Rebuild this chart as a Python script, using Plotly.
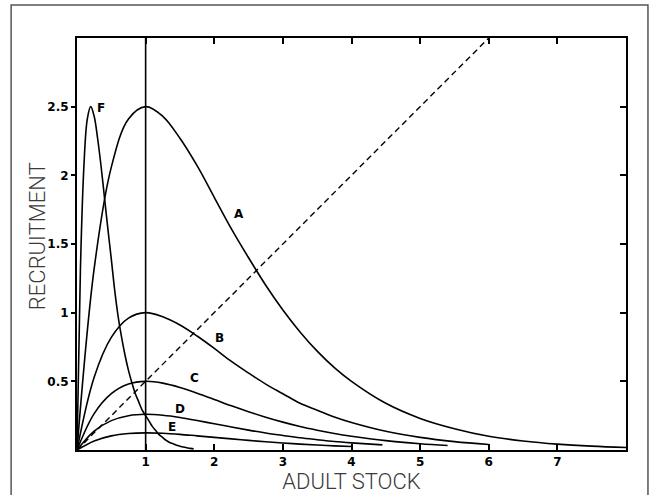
import plotly.graph_objects as go

# ---- data ----
stock_A = [0, 0.25, 0.5, 0.75, 1.0, 1.25, 1.5, 1.75, 2.0, 2.25, 2.5, 2.75, 3.0, 3.25, 3.5, 3.75,
           4.0, 4.5, 5.0, 5.5, 6.0, 6.5, 7.0, 7.5, 8.0]
rec_A = [0, 1.32, 2.06, 2.41, 2.50, 2.43, 2.27, 2.07, 1.84, 1.61, 1.40, 1.20, 1.02, 0.86, 0.72, 0.60,
         0.50, 0.34, 0.23, 0.155, 0.10, 0.066, 0.043, 0.028, 0.018]

stock_B = [0, 0.25, 0.5, 0.75, 1.0, 1.25, 1.5, 1.75, 2.0, 2.25, 2.5, 2.75, 3.0, 3.25, 3.5, 3.75,
           4.0, 4.5, 5.0, 5.5, 6.0]
rec_B = [0, 0.53, 0.82, 0.96, 1.0, 0.97, 0.91, 0.83, 0.74, 0.645, 0.56, 0.48, 0.41, 0.34, 0.29, 0.24,
         0.20, 0.136, 0.092, 0.061, 0.04]

stock_C = [0, 0.25, 0.5, 0.75, 1.0, 1.25, 1.5, 1.75, 2.0, 2.25, 2.5, 2.75, 3.0, 3.25, 3.5, 3.75,
           4.0, 4.5, 5.0, 5.4]
rec_C = [0, 0.265, 0.41, 0.48, 0.50, 0.487, 0.455, 0.413, 0.368, 0.322, 0.279, 0.239, 0.203, 0.171,
         0.144, 0.12, 0.10, 0.068, 0.046, 0.033]

stock_D = [0, 0.25, 0.5, 0.75, 1.0, 1.25, 1.5, 1.75, 2.0, 2.25, 2.5, 2.75, 3.0, 3.25, 3.5, 3.75,
           4.0, 4.45]
rec_D = [0, 0.138, 0.214, 0.25, 0.26, 0.253, 0.237, 0.215, 0.191, 0.168, 0.145, 0.124, 0.106, 0.089,
         0.075, 0.062, 0.052, 0.037]

stock_E = [0, 0.25, 0.5, 0.75, 1.0, 1.25, 1.5, 1.75, 2.0, 2.25, 2.5, 2.75, 3.0, 3.25, 3.5, 3.75, 4.0]
rec_E = [0, 0.066, 0.103, 0.12, 0.125, 0.122, 0.114, 0.103, 0.092, 0.081, 0.07, 0.06, 0.051, 0.043,
         0.036, 0.03, 0.025]

stock_F = [0, 0.05, 0.1, 0.15, 0.2, 0.25, 0.3, 0.35, 0.4, 0.45, 0.5, 0.55, 0.6, 0.65, 0.7, 0.75,
           0.8, 0.85, 0.9, 0.95, 1.0, 1.05, 1.1, 1.15, 1.2, 1.25, 1.3, 1.35, 1.4, 1.45, 1.5, 1.55,
           1.6, 1.65, 1.7]
rec_F = [0, 1.32, 2.06, 2.41, 2.50, 2.43, 2.27, 2.07, 1.84, 1.61, 1.39, 1.16, 0.97, 0.82, 0.69, 0.58,
         0.49, 0.41, 0.35, 0.29, 0.25, 0.21, 0.17, 0.14, 0.11, 0.09, 0.07, 0.055, 0.045, 0.035, 0.028,
         0.022, 0.016, 0.012, 0.008]

replacement_x = [0, 6]
replacement_y = [0, 3]

curve_labels = ["A", "B", "C", "D", "E", "F"]
label_x = [2.36, 2.08, 1.71, 1.50, 1.38, 0.35]
label_y = [1.72, 0.815, 0.525, 0.30, 0.17, 2.49]

x_ticks = [1, 2, 3, 4, 5, 6, 7]
x_tick_text = ["1", "2", "3", "4", "5", "6", "7"]
y_ticks = [0.5, 1, 1.5, 2, 2.5]
y_tick_text = ["0.5", "1", "1.5", "2", "2.5"]

x_title = "ADULT STOCK"
y_title = "RECRUITMENT"

fig = go.Figure()

line_style = dict(color="black", width=1.6, shape="spline", smoothing=1.0)
for xs, ys in [(stock_A, rec_A), (stock_B, rec_B), (stock_C, rec_C),
               (stock_D, rec_D), (stock_E, rec_E), (stock_F, rec_F)]:
    fig.add_trace(go.Scatter(x=xs, y=ys, mode="lines", line=line_style,
                             hoverinfo="skip", showlegend=False))

fig.add_trace(go.Scatter(x=replacement_x, y=replacement_y, mode="lines",
                         line=dict(color="black", width=1.4, dash="6px,4px"),
                         hoverinfo="skip", showlegend=False))

# vertical line at stock = 1 (on the right-side axis so that axis is drawn)
fig.add_trace(go.Scatter(x=[1, 1], y=[0, 3], mode="lines",
                         line=dict(color="black", width=1.6),
                         yaxis="y2", hoverinfo="skip", showlegend=False))

tick_font = dict(family="DejaVu Sans", size=12, color="black", weight="bold")
title_font = dict(family="Roboto", size=22, color="#3a3a3a", weight=300)

for t, lx, ly in zip(curve_labels, label_x, label_y):
    fig.add_annotation(x=lx, y=ly, text=t, showarrow=False,
                       font=dict(family="DejaVu Sans", size=12, color="black", weight="bold"))

# y axis title placed as rotated text
fig.add_annotation(xref="paper", yref="paper", x=-0.0729, y=0.519, text=y_title,
                   textangle=-90, showarrow=False, xanchor="center", yanchor="middle",
                   font=title_font)

fig.update_layout(
    width=652, height=495,
    margin=dict(l=77, r=26, t=38, b=45),
    paper_bgcolor="white", plot_bgcolor="white",
    xaxis=dict(range=[0, 8], tickvals=x_ticks, ticktext=x_tick_text, automargin=False,
               ticks="inside", ticklen=6, tickwidth=1.5, tickcolor="black",
               showline=True, linecolor="black", linewidth=2, mirror="ticks",
               showgrid=False, zeroline=False, tickfont=tick_font,
               title=dict(text=x_title, font=title_font, standoff=4)),
    yaxis=dict(range=[0, 3], tickvals=y_ticks, ticktext=y_tick_text, automargin=False,
               ticks="outside", ticklen=4, tickwidth=1.5, tickcolor="black",
               showline=True, linecolor="black", linewidth=2,
               showgrid=False, zeroline=False, tickfont=tick_font),
    yaxis2=dict(range=[0, 3], overlaying="y", side="right", tickvals=y_ticks, automargin=False,
                showticklabels=False, ticks="inside", ticklen=6, tickwidth=1.5,
                tickcolor="black", showline=True, linecolor="black", linewidth=2,
                showgrid=False, zeroline=False),
)

# outer frame around the figure
fig.add_shape(type="rect", xref="paper", yref="paper",
              x0=-0.120, x1=1.040, y0=-0.16, y1=1.080,
              line=dict(color="#555555", width=1.5), layer="below")

fig.write_html("out.html", config={"displayModeBar": False},
               post_script="document.body.style.margin='0';document.body.style.overflow='hidden';")
